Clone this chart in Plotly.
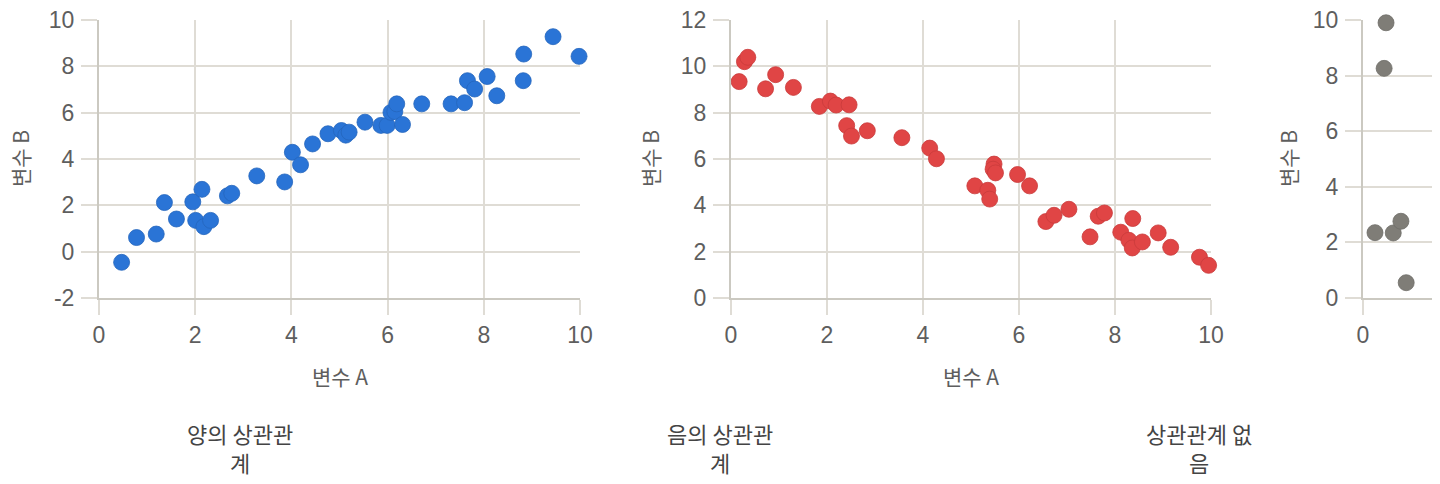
import plotly.graph_objects as go

# ---- data ----
pos_x = [0.47, 0.78, 1.19, 1.36, 1.61, 1.95, 2.01, 2.14, 2.18, 2.32, 2.67, 2.76, 3.28, 3.86,
         4.02, 4.19, 4.44, 4.76, 5.04, 5.13, 5.20, 5.53, 5.86, 5.99, 6.07, 6.15, 6.19, 6.31,
         6.71, 7.32, 7.60, 7.66, 7.81, 8.07, 8.27, 8.82, 8.83, 9.44, 9.98]
pos_y = [-0.46, 0.61, 0.76, 2.12, 1.41, 2.15, 1.35, 2.69, 1.08, 1.35, 2.41, 2.52, 3.27, 3.01,
         4.29, 3.75, 4.65, 5.09, 5.23, 5.03, 5.16, 5.59, 5.45, 5.45, 6.01, 6.05, 6.38, 5.49,
         6.38, 6.38, 6.43, 7.38, 7.02, 7.56, 6.73, 7.38, 8.53, 9.28, 8.43]

neg_x = [0.17, 0.28, 0.35, 0.72, 0.93, 1.30, 1.84, 2.07, 2.19, 2.46, 2.41, 2.51, 2.84, 3.56,
         4.14, 4.28, 5.08, 5.35, 5.39, 5.48, 5.46, 5.51, 5.97, 6.22, 6.56, 6.73, 7.04, 7.48,
         7.65, 7.78, 8.12, 8.29, 8.37, 8.36, 8.57, 8.90, 9.16, 9.76, 9.95]
neg_y = [9.34, 10.20, 10.39, 9.03, 9.64, 9.09, 8.27, 8.50, 8.33, 8.34, 7.44, 6.99, 7.22, 6.92,
         6.47, 6.01, 4.84, 4.65, 4.27, 5.78, 5.56, 5.40, 5.33, 4.84, 3.30, 3.57, 3.83, 2.64,
         3.53, 3.67, 2.84, 2.49, 3.43, 2.16, 2.42, 2.81, 2.19, 1.76, 1.41]

none_x = [0.25, 0.44, 0.48, 0.63, 0.79, 0.90]
none_y = [2.35, 8.26, 9.90, 2.34, 2.76, 0.55]

x_ticks = [0, 2, 4, 6, 8, 10]
y_ticks_pos = [-2, 0, 2, 4, 6, 8, 10]
y_ticks_neg = [0, 2, 4, 6, 8, 10, 12]
y_ticks_none = [0, 2, 4, 6, 8, 10]

titles = ["양의 상관관<br>계", "음의 상관관<br>계", "상관관계 없<br>음"]
x_title = "변수 A"
y_title = "변수 B"

# ---- layout geometry (target pixel positions in the screenshot) ----
W, H = 1440, 484
OFF = 8  # page body margin
FONT = "Liberation Sans, Noto Sans CJK KR, sans-serif"
KFONT = "Noto Sans CJK KR, Liberation Sans, sans-serif"
GRID = "#dfdcd5"
AXIS = "#cbc9c1"
TICKC = "#5e5e5e"

def px(x):
    return (x - OFF) / W

def py(y):
    return 1 - (y - OFF) / H

fig = go.Figure()

panels = [
    (pos_x, pos_y, "#2a74d6", "#2566bd", (99, 580), [-2, 10], y_ticks_pos),
    (neg_x, neg_y, "#e04545", "#c93b3b", (731, 1211), [0, 12], y_ticks_neg),
    (none_x, none_y, "#7f7d77", "#6f6d68", (1363, 1448), [0, 10], y_ticks_none),
]

for i, (xs, ys, col, edge, (x0, x1), yr, yt) in enumerate(panels):
    n = "" if i == 0 else str(i + 1)
    fig.add_trace(go.Scatter(
        x=xs, y=ys, mode="markers", xaxis="x" + n, yaxis="y" + n,
        marker=dict(size=16, color=col, line=dict(color=edge, width=0.8)),
        cliponaxis=False, showlegend=False, hoverinfo="x+y"))
    xr = [0, 10] if i < 2 else [0, (x1 - x0) / 48.0]
    fig.layout["xaxis" + n] = dict(
        domain=[px(x0), min(px(x1), 1)], range=xr, anchor="y" + n, automargin=False,
        tickmode="array", tickvals=x_ticks, ticktext=[str(v) for v in x_ticks],
        showgrid=True, gridcolor=GRID, gridwidth=2,
        zeroline=False, showline=True, linecolor=AXIS, linewidth=2,
        ticks="outside", ticklen=15, tickwidth=2, tickcolor=GRID,
        ticklabelstandoff=0, ticklabeloverflow="allow",
        tickfont=dict(family=FONT, size=23, color=TICKC), fixedrange=True)
    fig.layout["yaxis" + n] = dict(
        domain=[py(298), py(20)], range=yr, anchor="x" + n, automargin=False,
        tickmode="array", tickvals=yt, ticktext=[str(v) for v in yt],
        showgrid=True, gridcolor=GRID, gridwidth=2,
        zeroline=False, showline=True, linecolor=AXIS, linewidth=2,
        ticks="outside", ticklen=16, tickwidth=2, tickcolor=GRID,
        ticklabelstandoff=2, ticklabeloverflow="allow",
        tickfont=dict(family=FONT, size=23, color=TICKC), fixedrange=True)

annotations = []
common = dict(xref="paper", yref="paper", showarrow=False, xanchor="center", yanchor="middle")
# y axis titles
for xc in (20, 650, 1288):
    annotations.append(dict(text=y_title, x=px(xc), y=py(159), textangle=-90,
                            font=dict(family=KFONT, size=21, color=TICKC), **common))
# x axis titles
for xc in (340, 971):
    annotations.append(dict(text=x_title, x=px(xc), y=py(376),
                            font=dict(family=KFONT, size=21, color=TICKC), **common))
# captions
for xc, t in zip((240, 720, 1199), titles):
    annotations.append(dict(text=t, x=px(xc), y=py(447), align="center",
                            font=dict(family=KFONT, size=22, color="#444444"), **common))

fig.update_layout(
    width=W, height=H, margin=dict(l=0, r=0, t=0, b=0, autoexpand=False),
    paper_bgcolor="white", plot_bgcolor="white",
    annotations=annotations, showlegend=False,
)

fig.write_html("out.html", config={"displayModeBar": False})
